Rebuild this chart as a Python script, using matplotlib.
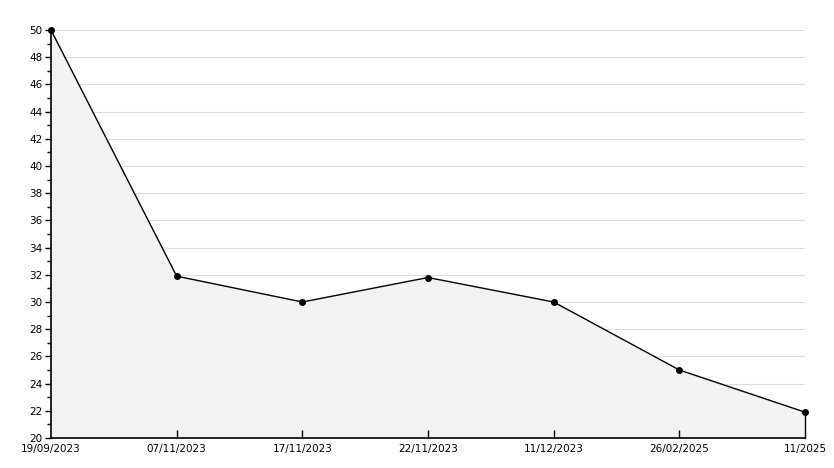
import matplotlib
matplotlib.use("Agg")
import matplotlib.pyplot as plt
import numpy as np

# Dati
date = ['19/09/2023', '07/11/2023', '17/11/2023', '22/11/2023', '11/12/2023', '26/02/2025', '11/2025']
valori = [50, 31.9, 30, 31.8, 30, 25, 21.9]

Y_MIN = 20
Y_MAX = 50

fig = plt.figure(figsize=(8.34, 4.68), dpi=100)
ax = fig.add_axes([51 / 834, 30 / 468, 754 / 834, 408 / 468])

x = np.arange(len(date))

# Area sotto la curva
ax.fill_between(x, valori, Y_MIN, color='#f2f2f2', zorder=1)
ax.plot([x[-1], x[-1]], [Y_MIN, valori[-1]], color='black', lw=1, zorder=3, clip_on=False)

# Griglia orizzontale
for yv in range(Y_MIN + 2, Y_MAX + 1, 2):
    ax.axhline(yv, color='#dddddd', lw=0.8, zorder=0)

ax.plot(x, valori, color='black', lw=1, marker='o', markersize=4, zorder=4, clip_on=False)

ax.set_xlim(x[0], x[-1])
ax.set_ylim(Y_MIN, Y_MAX)

ax.set_yticks(range(Y_MIN, Y_MAX + 1, 2))
ax.set_yticks(range(Y_MIN + 1, Y_MAX, 2), minor=True)
ax.tick_params(axis='y', which='major', direction='out', length=4, width=1, labelsize=7.5, pad=2)
ax.tick_params(axis='y', which='minor', direction='out', length=3, width=1)

ax.set_xticks(x)
ax.set_xticklabels(date)
ax.tick_params(axis='x', direction='in', length=6, width=1, labelsize=7.5, pad=4)

# niente tacche agli estremi dell'asse x
xticks = ax.xaxis.get_major_ticks()
for t in (xticks[0], xticks[-1]):
    t.tick1line.set_visible(False)

for s in ['top', 'right']:
    ax.spines[s].set_visible(False)
for s in ['left', 'bottom']:
    ax.spines[s].set_linewidth(1.2)

fig.savefig('out.png', dpi=100)
